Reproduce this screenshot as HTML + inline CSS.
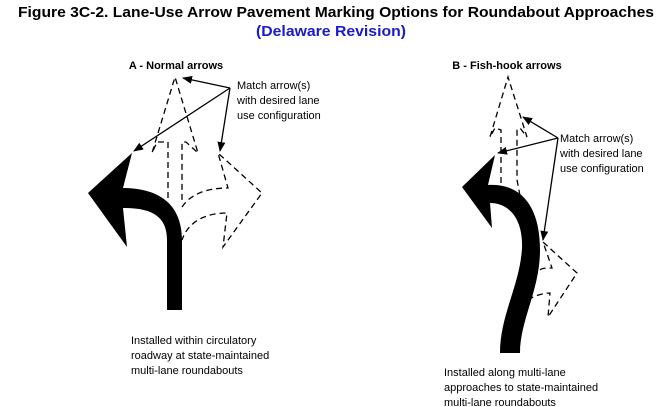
<!DOCTYPE html>
<html><head><meta charset="utf-8"><style>
html,body{margin:0;padding:0;background:#fff;}
svg{display:block;font-family:"Liberation Sans",Arial,sans-serif;}
</style></head><body>
<svg width="672" height="407" viewBox="0 0 672 407" xmlns="http://www.w3.org/2000/svg">
<defs>
<marker id="ah" markerWidth="10" markerHeight="8" refX="9" refY="4" orient="auto" markerUnits="userSpaceOnUse">
<path d="M0,0 L10,4 L0,8 Z" fill="#000"/></marker>
</defs>
<text x="336" y="17" text-anchor="middle" font-size="15" font-weight="bold" textLength="636" lengthAdjust="spacingAndGlyphs">Figure 3C-2.  Lane-Use Arrow Pavement Marking Options for Roundabout Approaches</text>
<text x="331" y="36" text-anchor="middle" font-size="15" font-weight="bold" fill="#1a1acc" textLength="150" lengthAdjust="spacingAndGlyphs">(Delaware Revision)</text>

<text x="176" y="69" text-anchor="middle" font-size="11" font-weight="bold">A - Normal arrows</text>
<text x="507" y="69" text-anchor="middle" font-size="11" font-weight="bold">B - Fish-hook arrows</text>

<!-- A: black left arrow -->
<path d="M167,310 L182,310 L182,240 C182,205 160,188 123,188 L132,153 L88,193 L127,247 L123,208 C150,208 167,215 167,240 Z" fill="#000"/>
<!-- A dashed -->
<g fill="none" stroke="#000" stroke-width="1.3" stroke-dasharray="6,4">
<path d="M168,198 L168,142 L157,142 L152,153 L175,77 L198,153 L186,142 L182,142 L182,200"/>
<path d="M182,207 C190,195 205,188 228,188 L218,153 L262,193 L223,247 L227,213 C205,213 188,222 182,240"/>
</g>
<g stroke="#000" stroke-width="1.3" fill="none">
<line x1="230" y1="88" x2="183" y2="78" marker-end="url(#ah)"/>
<line x1="230" y1="88" x2="134" y2="151" marker-end="url(#ah)"/>
<line x1="230" y1="88" x2="220" y2="151" marker-end="url(#ah)"/>
</g>
<text font-size="11"><tspan x="237" y="89">Match arrow(s)</tspan><tspan x="237" y="104">with desired lane</tspan><tspan x="237" y="119">use configuration</tspan></text>
<text font-size="11"><tspan x="131" y="344">Installed within circulatory</tspan><tspan x="131" y="359">roadway at state-maintained</tspan><tspan x="131" y="374">multi-lane roundabouts</tspan></text>

<!-- B: black fish-hook -->
<path d="M500,353 L520,353 C520,320 540,290 540,250 C540,205 520,183 488,185 L495,155 L462,187 L492,228 L490,203 C510,203 523,220 522,248 C520,285 500,315 500,353 Z" fill="#000"/>
<g fill="none" stroke="#000" stroke-width="1.3" stroke-dasharray="6,4">
<path d="M501,193 L501,130 L495,128 L490,137 L508,77 L527,137 L520,128 L517,130 L517,180 C519,190 521,200 521,205"/>
<path d="M528,300 C535,295 545,293 550,293 L548,317 L577,273 L543,242 L552,268 C545,268 540,268 538,272"/>
</g>
<g stroke="#000" stroke-width="1.3" fill="none">
<line x1="558" y1="138" x2="523" y2="117" marker-end="url(#ah)"/>
<line x1="558" y1="138" x2="498" y2="153" marker-end="url(#ah)"/>
<line x1="558" y1="138" x2="543" y2="240" marker-end="url(#ah)"/>
</g>
<text font-size="11"><tspan x="560" y="142">Match arrow(s)</tspan><tspan x="560" y="157">with desired lane</tspan><tspan x="560" y="172">use configuration</tspan></text>
<text font-size="11"><tspan x="444" y="376">Installed along multi-lane</tspan><tspan x="444" y="391">approaches to state-maintained</tspan><tspan x="444" y="406">multi-lane roundabouts</tspan></text>
</svg>
</body></html>
